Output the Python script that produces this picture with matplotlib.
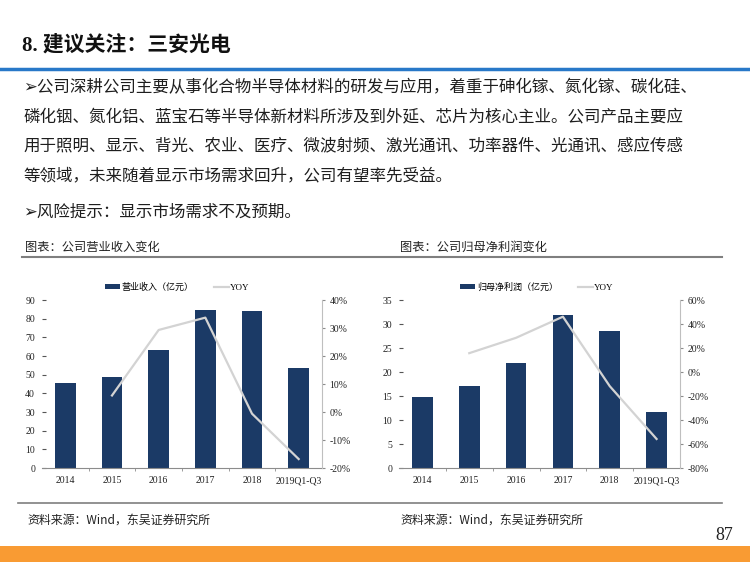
import numpy as np
import matplotlib
matplotlib.use('Agg')
import matplotlib.pyplot as plt
from matplotlib.lines import Line2D
from matplotlib.patches import Rectangle
from matplotlib.ticker import FuncFormatter, FixedLocator

# Datos de las graficas
years = ['2014', '2015', '2016', '2017', '2018', '2019Q1-Q3']
revenue = [45.8, 48.8, 63.1, 84.5, 83.9, 53.5]
revenue_yoy = [np.nan, 5.9, 29.3, 33.7, -0.6, -16.8]
profit = [14.8, 17.1, 21.8, 31.8, 28.5, 11.7]
profit_yoy = [np.nan, 15.7, 28.5, 46.1, -11.8, -55.8]

title = '8. 建议关注：三安光电'
body_lines = [
    '➢公司深耕公司主要从事化合物半导体材料的研发与应用，着重于砷化镓、氮化镓、碳化硅、',
    '磷化铟、氮化铝、蓝宝石等半导体新材料所涉及到外延、芯片为核心主业。公司产品主要应',
    '用于照明、显示、背光、农业、医疗、微波射频、激光通讯、功率器件、光通讯、感应传感',
    '等领域，未来随着显示市场需求回升，公司有望率先受益。',
    '➢风险提示：显示市场需求不及预期。',
]
captions = ['图表：公司营业收入变化', '图表：公司归母净利润变化']
sources = ['资料来源：Wind，东吴证券研究所', '资料来源：Wind，东吴证券研究所']
bar_labels = ['营业收入（亿元）', '归母净利润（亿元）']
page_no = '87'

W, H = 750, 562
CJK = ['Noto Sans CJK SC', 'DejaVu Sans']
MIX = ['Liberation Serif', 'Noto Sans CJK SC']
BAR_C = '#1B3A66'
LINE_C = '#D3D3D3'
GREY = '#8C8C8C'

plt.rcParams['font.family'] = CJK
fig = plt.figure(figsize=(W / 100, H / 100), dpi=100)


def fx(x):
    return x / W


def fy(y):
    return 1 - y / H


#Encabezado
fig.text(fx(22), fy(45), title, family=MIX, fontsize=15, fontweight='bold',
         va='center', ha='left', color='#111111')
fig.add_artist(Line2D([0, 1], [fy(68.5), fy(68.5)], color='#2878C8', lw=2.5))

#Texto del cuerpo
for y, line in zip([88, 117, 146, 176, 212], body_lines):
    fig.text(fx(23), fy(y), line, family=CJK, fontsize=11.9, va='center',
             ha='left', color='#1e1e1e')

fig.text(fx(25), fy(247), captions[0], fontsize=8.8, va='center', color='#222222')
fig.text(fx(400), fy(247), captions[1], fontsize=8.8, va='center', color='#222222')
fig.add_artist(Line2D([fx(22), fx(722)], [fy(257), fy(257)], color='#7F7F7F', lw=1.5))

fig.add_artist(Line2D([fx(18), fx(722)], [fy(503), fy(503)], color='#7F7F7F', lw=1.2))
fig.text(fx(27), fy(520), sources[0], fontsize=8.6, va='center', color='#222222')
fig.text(fx(400), fy(520), sources[1], fontsize=8.6, va='center', color='#222222')
fig.text(fx(733), fy(535), page_no, family='Liberation Serif', fontsize=13,
         va='center', ha='right', color='#222222')
fig.add_artist(Rectangle((0, 0), 1, (H - 546) / H, transform=fig.transFigure,
                         color='#F99B33', lw=0))


def draw_chart(left, right, bars, yoy, ymax, ystep, pmin, pmax, pstep, label, leg_x):
    ax = fig.add_axes([fx(left), fy(468), (right - left) / W, 168 / H])
    x = np.arange(len(years))
    b = ax.bar(x, bars, width=0.44, color=BAR_C, zorder=2)
    ax.set_xlim(-0.5, len(years) - 0.5)
    ax.set_ylim(0, ymax)
    ax.set_yticks(np.arange(0, ymax + 0.1, ystep))
    ax.set_xticks(x)
    ax.set_xticklabels(years)
    ax.xaxis.set_minor_locator(FixedLocator(x[:-1] + 0.5))
    ax.tick_params(axis='x', which='major', length=0, pad=6)
    ax.tick_params(axis='x', which='minor', length=2.5, color=GREY, direction='out')
    ax.tick_params(axis='y', direction='in', length=3, color='#555555', pad=5)
    for s in ['top', 'left', 'right']:
        ax.spines[s].set_visible(False)
    ax.spines['bottom'].set_color(GREY)

    ax2 = ax.twinx()
    ln, = ax2.plot(x, yoy, color=LINE_C, lw=1.6, zorder=3)
    ax2.set_ylim(pmin, pmax)
    ax2.set_yticks(np.arange(pmin, pmax + 0.1, pstep))
    ax2.yaxis.set_major_formatter(FuncFormatter(lambda v, p: f'{v:.0f}%'))
    ax2.tick_params(axis='y', direction='out', length=2.5, color=GREY, pad=3)
    for s in ['top', 'left', 'bottom']:
        ax2.spines[s].set_visible(False)
    ax2.spines['right'].set_color('#BFBFBF')

    for a in (ax, ax2):
        for t in a.get_xticklabels() + a.get_yticklabels():
            t.set_family('Liberation Serif')
            t.set_fontsize(7)
            t.set_color('#222222')

    fig.legend([b, ln], [label, 'YOY'], loc='center left',
               bbox_to_anchor=(fx(leg_x), fy(287)), bbox_transform=fig.transFigure,
               ncol=2, frameon=False, prop={'family': MIX, 'size': 6.5},
               borderpad=0, handlelength=1.7, handleheight=0.6,
               handletextpad=0.15, columnspacing=2.2, borderaxespad=0)


draw_chart(42, 322, revenue, revenue_yoy, 90, 10, -20, 40, 10, bar_labels[0], 105)
draw_chart(399, 680, profit, profit_yoy, 35, 5, -80, 60, 20, bar_labels[1], 460)

fig.savefig('out.png', dpi=100)
